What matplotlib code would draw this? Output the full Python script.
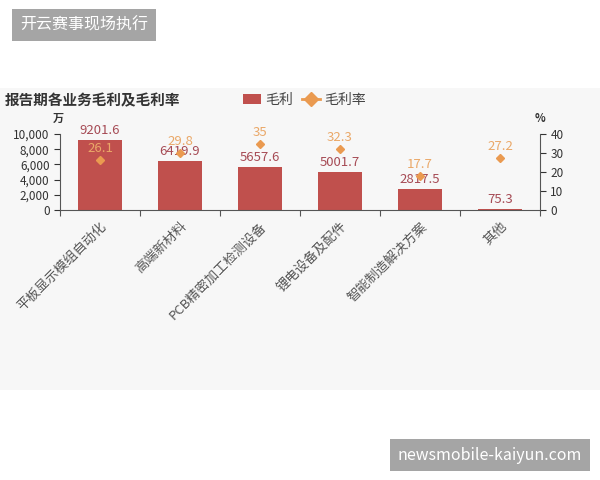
import matplotlib
matplotlib.use("Agg")
import matplotlib.pyplot as plt
from matplotlib.patches import Rectangle
from matplotlib.lines import Line2D

plt.rcParams['font.family'] = ['Noto Sans CJK SC', 'DejaVu Sans']

# data
categories = ["平板显示模组自动化", "高端新材料", "PCB精密加工检测设备",
              "锂电设备及配件", "智能制造解决方案", "其他"]
gross_profit = [9201.6, 6419.9, 5657.6, 5001.7, 2817.5, 75.3]   # 万
gross_margin = [26.1, 29.8, 35, 32.3, 17.7, 27.2]               # %

bar_color = "#c0504d"
dot_color = "#ea9a50"

fig = plt.figure(figsize=(6, 4.8), dpi=100)
fig.patch.set_facecolor("white")

# light gray chart background
fig.patches.append(Rectangle((0, 1 - 390 / 480), 1, (390 - 88) / 480,
                             transform=fig.transFigure, facecolor="#f7f7f7",
                             edgecolor="none", zorder=-5))

ax = fig.add_axes([0.1, 1 - 210 / 480, 0.8, 76 / 480])
ax.set_facecolor("none")
x = list(range(len(categories)))
ax.bar(x, gross_profit, width=0.56, color=bar_color, zorder=2)
ax.set_xlim(-0.5, len(categories) - 0.5)
ax.set_ylim(0, 10000)
ax.set_yticks([0, 2000, 4000, 6000, 8000, 10000])
ax.set_yticklabels(["0", "2,000", "4,000", "6,000", "8,000", "10,000"])
ax.set_xticks([i - 0.5 for i in range(len(categories) + 1)], minor=False)
ax.set_xticklabels([])
ax.set_xticks(x, minor=True)
ax.set_xticklabels(categories, minor=True, rotation=45, ha="right",
                   rotation_mode="anchor", fontsize=9.5, color="#555555")
ax.tick_params(axis="x", which="minor", length=0, pad=7)
ax.tick_params(axis="x", which="major", length=4, color="#555555")
ax.tick_params(axis="y", labelsize=8.5, colors="#333333", length=4)
for side in ["top", "right"]:
    ax.spines[side].set_visible(False)
ax.spines["left"].set_color("#555555")
ax.spines["bottom"].set_color("#555555")
for i, v in enumerate(gross_profit):
    ax.text(i, v + 400, f"{v}", ha="center", va="bottom", fontsize=9.5,
            color="#a64b55", zorder=4)

ax2 = ax.twinx()
ax2.set_ylim(0, 40)
ax2.set_yticks([0, 10, 20, 30, 40])
ax2.plot(x, gross_margin, linestyle="none", marker="D", markersize=4.5,
         color=dot_color, zorder=3)
ax2.tick_params(axis="y", labelsize=8.5, colors="#333333", length=4)
for side in ["top", "left", "bottom"]:
    ax2.spines[side].set_visible(False)
ax2.spines["right"].set_color("#555555")
for i, v in enumerate(gross_margin):
    ax2.text(i, v + 2.6, f"{v:g}", ha="center", va="bottom", fontsize=9.5,
             color="#eaa868", zorder=4)

fig.text(58 / 600, 1 - 118 / 480, "万", fontsize=8, fontweight="bold",
         ha="center", va="center", color="#333333")
fig.text(540 / 600, 1 - 118 / 480, "%", fontsize=8, fontweight="bold",
         ha="center", va="center", color="#333333")

fig.text(5 / 600, 1 - 100 / 480, "报告期各业务毛利及毛利率", fontsize=10.5,
         fontweight="bold", ha="left", va="center", color="#333333")

handles = [Rectangle((0, 0), 1, 1, facecolor=bar_color),
           Line2D([], [], linestyle="-", linewidth=2, marker="D", markersize=7,
                  color=dot_color)]
fig.legend(handles, ["毛利", "毛利率"], loc="center left",
           bbox_to_anchor=(230 / 600, 1 - 100 / 480), ncol=2, frameon=False,
           fontsize=10, handlelength=1.3, handleheight=0.8, columnspacing=0.7,
           handletextpad=0.3, labelcolor="#444444")

# watermark boxes
fig.text(84 / 600, 1 - 25 / 480, "开云赛事现场执行", fontsize=11.5, color="white",
         ha="center", va="center",
         bbox=dict(boxstyle="square,pad=0.5", facecolor="#a5a5a5", edgecolor="none"))
fig.text(490 / 600, 1 - 455 / 480, "newsmobile-kaiyun.com", fontsize=11.5,
         color="white", ha="center", va="center",
         bbox=dict(boxstyle="square,pad=0.5", facecolor="#a5a5a5", edgecolor="none"))

fig.savefig("out.png", dpi=100)
